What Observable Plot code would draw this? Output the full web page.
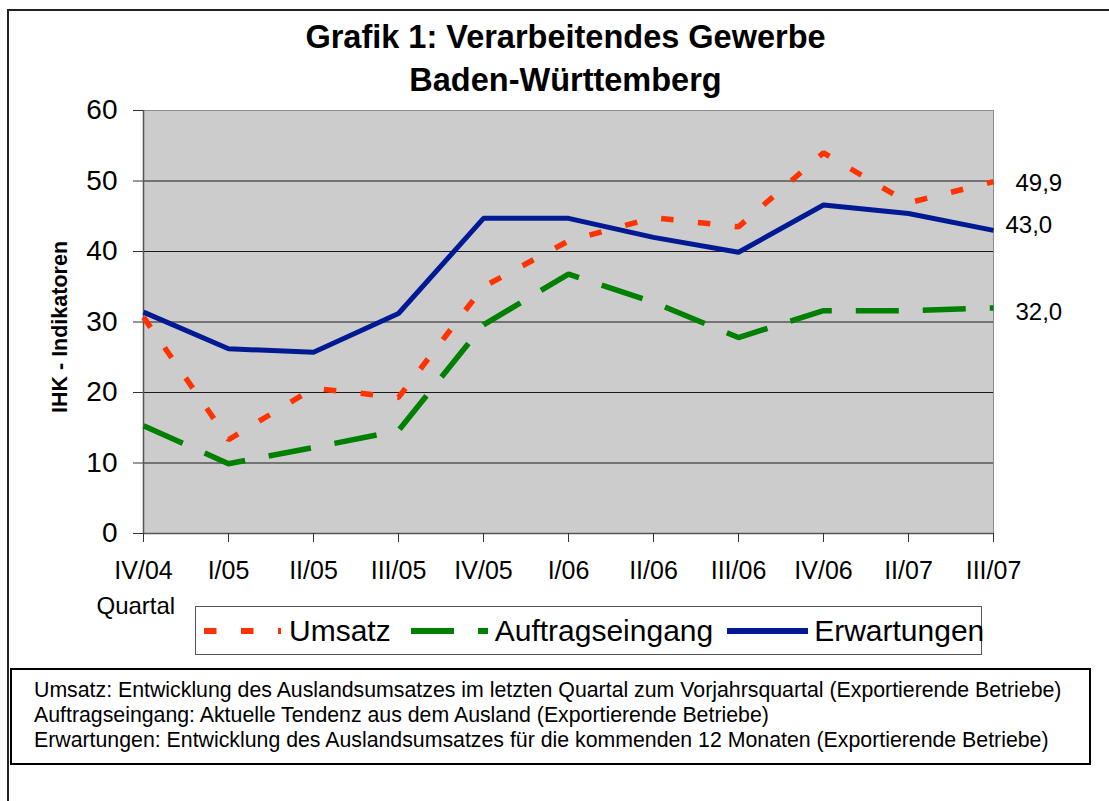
<!DOCTYPE html>
<html>
<head>
<meta charset="utf-8">
<script src="https://cdn.jsdelivr.net/npm/d3@7"></script>
<script src="https://cdn.jsdelivr.net/npm/@observablehq/plot@0.6"></script>
<style>
  html, body { margin: 0; padding: 0; background: #fff; overflow: hidden; }
  #wrap { position: relative; width: 1109px; height: 801px; overflow: hidden;
          font-family: "Liberation Sans", Arial, sans-serif; color: #000; }
  #frame { position: absolute; left: 7px; top: 9px; width: 1200px; height: 900px;
           border-left: 2px solid #222; border-top: 2px solid #222; }
  #title { position: absolute; left: 0; top: 16px; width: 1131px; text-align: center;
           font-weight: bold; font-size: 32.5px; line-height: 43px; }
  #chart { position: absolute; left: 0; top: 0; }
  #legend { position: absolute; left: 195px; top: 606px; width: 787px; height: 49px;
            box-sizing: border-box; border: 1.5px solid #555; background: #fff;
            display: flex; align-items: center; font-size: 30px; line-height: 1; }
  #legend .txt { white-space: nowrap; }
  #caption { position: absolute; left: 10px; top: 668px; width: 1081px; height: 97px;
             box-sizing: border-box; border: 2px solid #000; background: #fff;
             padding: 8px 0 0 22px; font-size: 21.3px; line-height: 25px; white-space: nowrap; }
</style>
</head>
<body>
<div id="wrap">
  <div id="frame"></div>
  <div id="chart"></div>
  <div id="title"></div>
  <div id="legend"></div>
  <div id="caption"></div>
</div>
<script>
// ---------- data ----------
const titleLines = ["Grafik 1: Verarbeitendes Gewerbe", "Baden-Württemberg"];
const quarters = ["IV/04", "I/05", "II/05", "III/05", "IV/05", "I/06", "II/06", "III/06", "IV/06", "II/07", "III/07"];
const umsatz          = [30.7, 13.3, 20.6, 19.3, 35.0, 41.5, 44.8, 43.5, 54.0, 46.9, 49.9];
const auftragseingang = [15.3,  9.9, 12.2, 14.6, 29.6, 36.8, 32.8, 27.8, 31.6, 31.6, 32.0];
const erwartungen     = [31.4, 26.2, 25.7, 31.2, 44.7, 44.7, 42.0, 39.9, 46.6, 45.4, 43.0];
const seriesNames = ["Umsatz", "Auftragseingang", "Erwartungen"];
const yTicks = [0, 10, 20, 30, 40, 50, 60];
const yLabel = "IHK - Indikatoren";
const xLabel = "Quartal";
const captionLines = [
  "Umsatz: Entwicklung des Auslandsumsatzes im letzten Quartal zum Vorjahrsquartal (Exportierende Betriebe)",
  "Auftragseingang: Aktuelle Tendenz aus dem Ausland (Exportierende Betriebe)",
  "Erwartungen: Entwicklung des Auslandsumsatzes für die kommenden 12 Monaten (Exportierende Betriebe)"
];

// ---------- styles ----------
const seriesValues = [umsatz, auftragseingang, erwartungen];
const styles = {
  Umsatz:          {stroke: "#ff3300", width: 5.5, dash: "12.5,24.5", labelDx: 22, labelDy: 2,  sampleW: 77, gapBefore: 8,  gapText: 8},
  Auftragseingang: {stroke: "#008000", width: 5.5, dash: "43,24",     labelDx: 22, labelDy: 4,  sampleW: 77, gapBefore: 20, gapText: 7},
  Erwartungen:     {stroke: "#001a94", width: 5,   dash: null,        labelDx: 12, labelDy: -5, sampleW: 81, gapBefore: 14, gapText: 6}
};
const fmt = v => d3.format(".1f")(v).replace(".", ",");

// ---------- title / caption ----------
document.getElementById("title").innerHTML = titleLines.join("<br>");
document.getElementById("caption").innerHTML = captionLines.join("<br>");

// ---------- chart ----------
const rows = seriesNames.map((name, k) => quarters.map((q, i) => ({series: name, q, v: seriesValues[k][i]})));
const drawOrder = [1, 0, 2];

const lineMarks = drawOrder.map(k => {
  const s = styles[seriesNames[k]];
  return Plot.line(rows[k], {x: "q", y: "v", stroke: s.stroke, strokeWidth: s.width,
    strokeDasharray: s.dash || undefined, strokeLinejoin: "miter", strokeLinecap: "butt"});
});
const labelMarks = seriesNames.map((name, k) => {
  const s = styles[name];
  const last = rows[k][rows[k].length - 1];
  return Plot.text([last], {x: "q", y: "v", text: d => fmt(d.v), textAnchor: "start",
    dx: s.labelDx, dy: s.labelDy, fontSize: 24, fill: "#000"});
});

const chart = Plot.plot({
  width: 1109, height: 640,
  marginLeft: 143, marginRight: 116, marginTop: 110, marginBottom: 107,
  style: {fontFamily: '"Liberation Sans", Arial, sans-serif', background: "transparent", color: "#000", overflow: "visible"},
  x: {type: "point", domain: quarters, padding: 0},
  y: {domain: [0, 60]},
  marks: [
    Plot.frame({fill: "#cccccc", stroke: "#8c8c8c", strokeWidth: 1}),
    Plot.ruleY(yTicks.filter(t => t > 0 && t < 60), {stroke: "#1a1a1a", strokeWidth: 1}),
    Plot.ruleY([0], {stroke: "#555", strokeWidth: 1.5}),
    Plot.ruleX([quarters[0]], {stroke: "#555", strokeWidth: 1.5}),
    Plot.axisY({ticks: yTicks, tickSize: 10, tickPadding: 16, fontSize: 28, label: null, stroke: "#333"}),
    Plot.axisX({tickSize: 9, tickPadding: 19, fontSize: 25, label: null, stroke: "#333"}),
    ...lineMarks,
    ...labelMarks,
    Plot.text([yLabel], {frameAnchor: "left", textAnchor: "middle", rotate: -90, dx: -83, dy: 5, fontSize: 21.5, fontWeight: "bold", fill: "#000"}),
    Plot.text([xLabel], {frameAnchor: "bottom-left", textAnchor: "start", dx: -47, dy: 80, fontSize: 24, fill: "#000"})
  ]
});
document.getElementById("chart").appendChild(chart);

// ---------- legend ----------
const legend = d3.select("#legend");
seriesNames.forEach(name => {
  const s = styles[name];
  const svg = legend.append("svg").attr("width", s.sampleW).attr("height", 10)
    .style("margin-left", s.gapBefore + "px").style("flex", "none");
  svg.append("line").attr("x1", 0).attr("x2", s.sampleW).attr("y1", 5).attr("y2", 5)
    .attr("stroke", s.stroke).attr("stroke-width", 6)
    .attr("stroke-dasharray", s.dash);
  legend.append("span").attr("class", "txt").style("margin-left", s.gapText + "px").text(name);
});
</script>
</body>
</html>
